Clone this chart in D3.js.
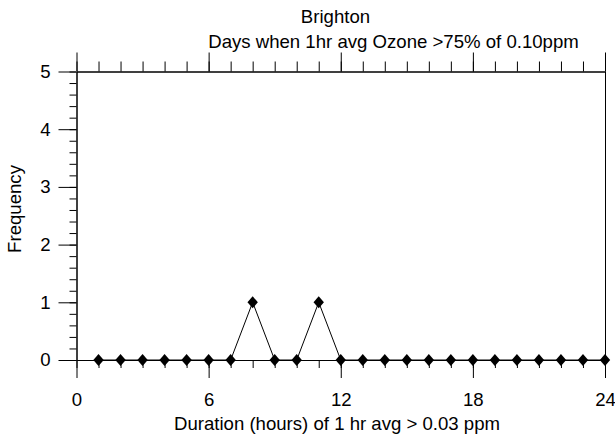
<!DOCTYPE html>
<html>
<head>
<meta charset="utf-8">
<script src="https://cdn.jsdelivr.net/npm/d3@7"></script>
<style>
  html, body { margin: 0; padding: 0; background: #fff; }
  text { font-family: "Liberation Sans", Arial, sans-serif; fill: #000; }
</style>
</head>
<body>
<svg id="chart" width="615" height="438"></svg>
<script>
// ---- data ----
const hours = [1,2,3,4,5,6,7,8,9,10,11,12,13,14,15,16,17,18,19,20,21,22,23,24];
const frequency = [0,0,0,0,0,0,0,1,0,0,1,0,0,0,0,0,0,0,0,0,0,0,0,0];
const xMajorTicks = [0, 6, 12, 18, 24];
const yMajorTicks = [0, 1, 2, 3, 4, 5];
const titleText = "Brighton";
const subtitleText = "Days when 1hr avg Ozone >75% of 0.10ppm";
const xTitle = "Duration (hours) of 1 hr avg > 0.03 ppm";
const yTitle = "Frequency";

// ---- layout ----
const svg = d3.select("#chart");
const L = 76.5, R = 605, T = 71.5, B = 360;
const FS = 18.6;

const x = d3.scaleLinear().domain([0, 24]).range([L, R]);
const y = d3.scaleLinear().domain([0, 5]).range([B, T]);

const xMinor = d3.range(0, 25, 1);
const yMinor = d3.range(0, 5.0001, 0.2).map(v => +v.toFixed(1));

function styleAxis(g) {
  g.selectAll("path.domain").attr("stroke", "#000").attr("stroke-width", 1);
  g.selectAll("line").attr("stroke", "#000").attr("stroke-width", 1);
  g.selectAll("text").attr("font-size", FS).attr("font-family", '"Liberation Sans", Arial, sans-serif');
}

// bottom minor
svg.append("g").attr("transform", `translate(0,${B})`)
  .call(d3.axisBottom(x).tickValues(xMinor).tickSize(8).tickSizeOuter(0).tickFormat(""))
  .call(styleAxis);
// bottom major
svg.append("g").attr("transform", `translate(0,${B})`)
  .call(d3.axisBottom(x).tickValues(xMajorTicks).tickSize(18).tickSizeOuter(0).tickPadding(15).tickFormat(d3.format("d")))
  .call(styleAxis);
// top minor
svg.append("g").attr("transform", `translate(0,${T})`)
  .call(d3.axisTop(x).tickValues(xMinor).tickSize(10).tickSizeOuter(0).tickFormat(""))
  .call(styleAxis);
// top major
svg.append("g").attr("transform", `translate(0,${T})`)
  .call(d3.axisTop(x).tickValues(xMajorTicks).tickSize(19).tickSizeOuter(0).tickFormat(""))
  .call(styleAxis);
// left minor
svg.append("g").attr("transform", `translate(${L},0)`)
  .call(d3.axisLeft(y).tickValues(yMinor).tickSize(7).tickSizeOuter(0).tickFormat(""))
  .call(styleAxis);
// left major
svg.append("g").attr("transform", `translate(${L},0)`)
  .call(d3.axisLeft(y).tickValues(yMajorTicks).tickSize(18).tickSizeOuter(0).tickPadding(8).tickFormat(d3.format("d")))
  .call(styleAxis);
// right border
svg.append("g").attr("transform", `translate(${R},0)`)
  .call(d3.axisRight(y).tickValues([]).tickSizeOuter(0))
  .call(styleAxis);

// ---- data line & markers ----
const pts = hours.map((h, i) => [h, frequency[i]]);
svg.append("path")
  .datum(pts)
  .attr("fill", "none")
  .attr("stroke", "#000")
  .attr("stroke-width", 1)
  .attr("d", d3.line().x(d => x(d[0])).y(d => y(d[1])));

// diamond marker: slightly taller than wide
const diamondType = {
  draw(ctx, size) {
    const hw = 5.2, hh = 6;
    ctx.moveTo(0, -hh);
    ctx.lineTo(hw, 0);
    ctx.lineTo(0, hh);
    ctx.lineTo(-hw, 0);
    ctx.closePath();
  }
};
const diamond = d3.symbol().type(diamondType);
svg.append("g").selectAll("path")
  .data(pts)
  .join("path")
  .attr("d", diamond)
  .attr("fill", "#000")
  .attr("transform", d => `translate(${x(d[0])},${y(d[1])})`);

// ---- titles ----
svg.append("text").attr("x", 335.5).attr("y", 23).attr("text-anchor", "middle")
  .attr("font-size", FS).text(titleText);
svg.append("text").attr("x", 393.5).attr("y", 48).attr("text-anchor", "middle")
  .attr("font-size", FS).text(subtitleText);
svg.append("text").attr("x", 337).attr("y", 430).attr("text-anchor", "middle")
  .attr("font-size", FS).text(xTitle);
svg.append("text").attr("transform", "translate(21,209) rotate(-90)").attr("text-anchor", "middle")
  .attr("font-size", FS).text(yTitle);
</script>
</body>
</html>
